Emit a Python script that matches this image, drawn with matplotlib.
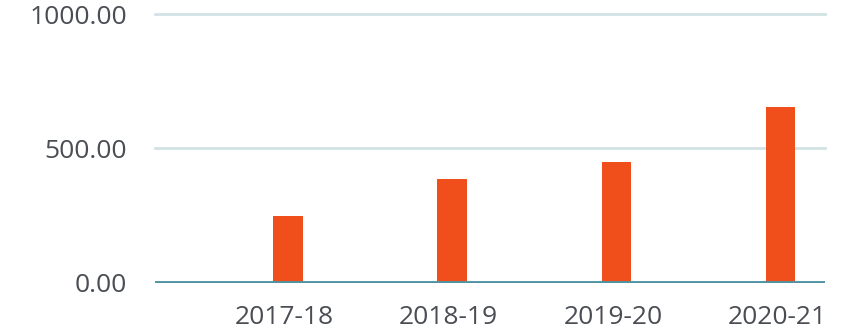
import numpy as np
import matplotlib.pyplot as plt

years = ['2017-18', '2018-19', '2019-20', '2020-21']
values = [250, 385, 450, 655]
yticks = [0, 500, 1000]

bar_color = '#f04f1c'
grid_color = '#d3e2e4'
axis_color = '#4f93a3'
text_color = '#4a4e54'

plt.rcParams['font.family'] = ['Open Sans', 'DejaVu Sans']

fig = plt.figure(figsize=(8.46, 3.34), dpi=100)
ax = fig.add_axes([0.183, 0.153, 0.792, 0.805])

x = np.arange(len(years))
ax.bar(x + 0.02, values, width=0.18, color=bar_color, zorder=3)

ax.set_xlim(-0.79, 3.29)
ax.set_ylim(0, 1000)
ax.set_yticks(yticks)
ax.set_yticklabels(['%.2f' % v for v in yticks])
ax.set_xticks(x)
ax.set_xticklabels(years)

for v in yticks[1:]:
    ax.axhline(v, color=grid_color, lw=2, zorder=1, clip_on=False)
ax.axhline(0, color=axis_color, lw=3.5, zorder=4)

for s in ax.spines.values():
    s.set_visible(False)
ax.tick_params(axis='both', length=0, labelsize=19, colors=text_color)
ax.tick_params(axis='y', pad=20)
ax.tick_params(axis='x', pad=16)

fig.savefig('out.png', dpi=100)
